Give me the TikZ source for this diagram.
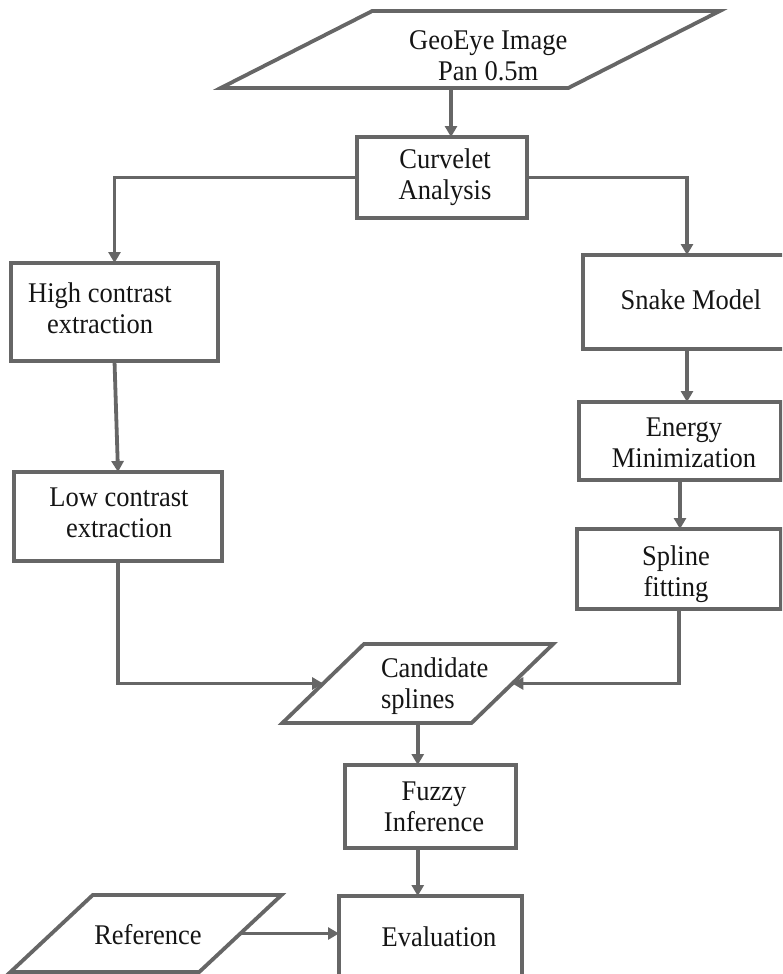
\documentclass[tikz,border=0pt]{standalone}
\usepackage{fontspec}
\setmainfont[FakeStretch=0.93]{Liberation Serif}
\usetikzlibrary{arrows.meta,shapes.geometric}
\definecolor{lc}{HTML}{666666}
\definecolor{tc}{HTML}{151515}
\begin{document}
\begin{tikzpicture}[x=1pt,y=-1pt,
  ln/.style={draw=lc,line width=3.8pt},
  box/.style={ln,rectangle,fill=white,inner sep=0pt,outer sep=0pt},
  para/.style 2 args={ln,trapezium,trapezium left angle=#1,trapezium right angle=#2,
    trapezium stretches=true,inner sep=2pt,outer sep=0pt,fill=white},
  tx/.style={text=tc,align=center,font=\fontsize{28.5}{31}\selectfont,inner sep=0pt},
  arr/.style={draw=lc,line width=3.8pt,-{Triangle[length=11pt,width=12pt]}}
]
\useasboundingbox (0,0) rectangle (782,974);
\clip (0,0) rectangle (782,974);

\node[para={52.3}{127.7}, minimum width=499pt, minimum height=77pt,
  label={[tx,xshift=18pt,yshift=-6pt]center:GeoEye Image\\Pan 0.5m}] (geo) at (470.25,49.5) {};
\node[box, minimum width=170pt, minimum height=81pt,
  label={[tx,xshift=3pt]center:Curvelet\\Analysis}] (curv) at (442,177.5) {};
\node[box, minimum width=207pt, minimum height=98pt,
  label={[tx,xshift=-14.5pt,yshift=4pt]center:High contrast\\extraction}] (high) at (114.5,312) {};
\node[box, minimum width=208pt, minimum height=89pt,
  label={[tx,xshift=1pt,yshift=4pt]center:Low contrast\\extraction}] (low) at (118,516.5) {};
\node[box, minimum width=208pt, minimum height=94pt,
  label={[tx,xshift=4pt,yshift=2pt]center:Snake Model}] (snake) at (687,302) {};
\node[box, minimum width=202pt, minimum height=78pt,
  label={[tx,xshift=4pt,yshift=-1.5pt]center:Energy\\Minimization}] (energy) at (680,441) {};
\node[box, minimum width=204pt, minimum height=80pt,
  label={[tx,xshift=-3pt,yshift=-5pt]center:Spline\\fitting}] (spline) at (679,569) {};
\node[para={52.8}{127.2}, minimum width=271pt, minimum height=79pt,
  label={[tx,align=left,xshift=17pt,yshift=-2.5pt]center:Candidate\\splines}] (cand) at (417.75,683.5) {};
\node[box, minimum width=171pt, minimum height=83pt,
  label={[tx,xshift=3.5pt]center:Fuzzy\\Inference}] (fuzzy) at (430.5,806.5) {};
\node[box, minimum width=183pt, minimum height=104pt,
  label={[tx,xshift=8.5pt,yshift=11pt]center:Evaluation}] (eval) at (430.5,948) {};
\node[para={52.3}{127.7}, minimum width=271pt, minimum height=77pt,
  label={[tx,xshift=2pt,yshift=-1.5pt]center:Reference}] (ref) at (146,933.5) {};

\draw[arr] ([xshift=9pt]curv.north |- geo.south) -- ([xshift=9pt]curv.north);
\draw[arr] (curv.west) -| (high.north);
\draw[arr] (curv.east) -| (snake.north);
\draw[arr] (high.south) -- (low.north);
\draw[arr] (low.south) |- (cand);
\draw[arr] (snake.south) -- (snake.south |- energy.north);
\draw[arr] (energy.south) -- (energy.south |- spline.north);
\draw[arr] (spline.south) |- (cand);
\draw[arr] (cand.south) -- (cand.south |- fuzzy.north);
\draw[arr] (cand.south |- fuzzy.south) -- (cand.south |- eval.north);
\draw[arr] (ref.east) -- (ref.east -| eval.west);
\end{tikzpicture}
\end{document}
